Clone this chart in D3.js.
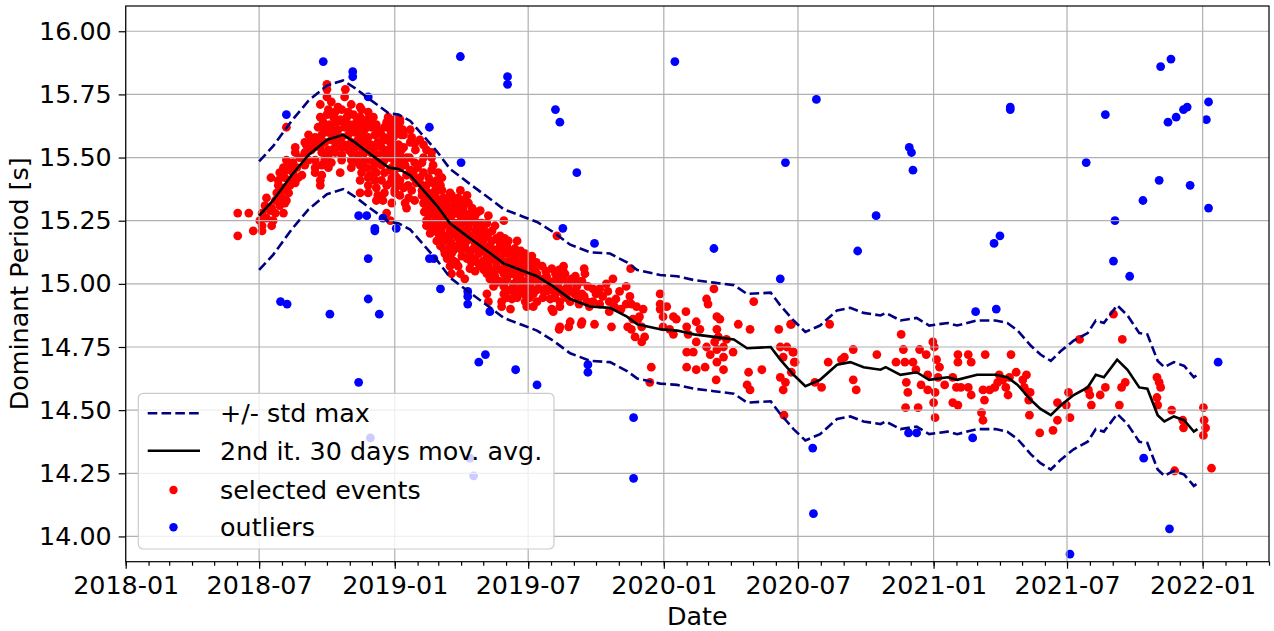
<!DOCTYPE html>
<html>
<head>
<meta charset="utf-8">
<script src="https://cdn.jsdelivr.net/npm/d3@7"></script>
<style>
  body { margin: 0; background: #fff; }
  text { font-family: "DejaVu Sans", sans-serif; fill: #000; }
</style>
</head>
<body>
<svg id="chart" width="1274" height="631"></svg>
<script>
// dates are stored as days since 2018-01-01, values in seconds

// red dots (selected events)
var selected = [
  [152,15.28],[167,15.28],[152,15.19],[173,15.21],[185,15.21],[185,15.23],[198,15.23],
  [182,15.25],[191,15.26],[200,15.25],[185,15.28],[196,15.29],[203,15.28],[214,15.28],
  [189,15.31],[198,15.30],[209,15.31],[216,15.32],[191,15.34],[203,15.33],[212,15.34],[218,15.33],
  [205,15.36],[212,15.37],[221,15.36],[207,15.39],[214,15.38],[223,15.39],[230,15.40],
  [197,15.42],[207,15.41],[216,15.42],[225,15.41],[234,15.42],[209,15.44],[218,15.45],[227,15.44],[239,15.43],
  [214,15.46],[223,15.47],[232,15.46],[243,15.47],[218,15.49],[227,15.48],[236,15.50],[248,15.49],
  [230,15.52],[243,15.52],[252,15.53],[230,15.54],[245,15.55],[255,15.54],[218,15.62],
  [273,15.79],[273,15.77],[298,15.77],[273,15.74],[297,15.74],
  [264,15.71],[279,15.72],[288,15.70],[306,15.71],[318,15.70],
  [275,15.69],[284,15.68],[293,15.69],[302,15.68],[320,15.69],[329,15.68],
  [264,15.66],[273,15.67],[282,15.66],[291,15.65],[300,15.66],[309,15.67],[318,15.66],[327,15.65],[336,15.66],[356,15.66],[365,15.65],
  [268,15.64],[277,15.63],[286,15.64],[295,15.64],[304,15.63],[313,15.64],[322,15.63],[331,15.64],[340,15.63],[354,15.64],[363,15.63],[372,15.64],
  [261,15.62],[270,15.61],[279,15.62],[288,15.61],[297,15.62],[306,15.61],[315,15.62],[324,15.61],[333,15.62],[342,15.61],[351,15.62],[361,15.61],[370,15.62],[376,15.61],
  [248,15.59],[257,15.58],[266,15.59],[275,15.60],[284,15.59],[293,15.58],[302,15.59],[311,15.60],[320,15.59],[329,15.58],[338,15.59],[347,15.59],[356,15.58],[365,15.59],[374,15.59],
  [243,15.56],[252,15.57],[261,15.56],[270,15.56],[279,15.57],[288,15.56],[297,15.55],[306,15.56],[315,15.57],[324,15.56],[333,15.55],[342,15.56],[351,15.57],[361,15.56],[370,15.55],
  [264,15.54],[275,15.53],[284,15.54],[293,15.54],[302,15.53],[311,15.54],[320,15.54],[329,15.53],[338,15.54],[347,15.54],[356,15.53],[365,15.54],[374,15.53],
  [266,15.52],[275,15.51],[284,15.52],[293,15.51],[306,15.52],[315,15.51],[324,15.52],[333,15.52],[342,15.51],[351,15.52],[361,15.51],[370,15.52],
  [257,15.49],[270,15.49],[279,15.48],[293,15.49],[306,15.49],[315,15.48],[324,15.49],[333,15.49],[342,15.48],[351,15.49],[365,15.49],[374,15.48],
  [257,15.46],[266,15.47],[275,15.46],[306,15.46],[318,15.47],[327,15.46],[336,15.46],[347,15.47],[361,15.46],[370,15.46],
  [257,15.44],[266,15.43],[291,15.44],[320,15.44],[331,15.43],[340,15.44],[351,15.44],[365,15.43],
  [264,15.41],[318,15.41],[329,15.42],[338,15.41],[347,15.41],[361,15.42],[372,15.41],
  [264,15.39],[329,15.39],[340,15.38],[354,15.39],[367,15.39],
  [318,15.36],[329,15.36],[342,15.35],[351,15.36],[365,15.36],
  [340,15.33],[349,15.33],[361,15.32],[354,15.28],
  [363,15.64],[372,15.65],[359,15.61],[368,15.60],[386,15.61],
  [363,15.58],[377,15.59],[388,15.58],[399,15.57],[359,15.56],[370,15.55],[386,15.56],[404,15.55],
  [363,15.53],[377,15.54],[393,15.53],[408,15.53],[415,15.52],[359,15.50],[372,15.51],[404,15.50],[415,15.50],
  [365,15.48],[379,15.47],[402,15.48],[417,15.47],
  [359,15.45],[372,15.46],[386,15.45],[404,15.44],[415,15.45],[424,15.44],
  [368,15.42],[381,15.43],[399,15.42],[411,15.42],[422,15.41],[429,15.42],
  [359,15.40],[372,15.39],[399,15.40],[408,15.39],[417,15.40],[427,15.39],
  [365,15.37],[377,15.38],[402,15.37],[411,15.36],[420,15.37],[429,15.37],[440,15.36],[454,15.37],
  [372,15.35],[384,15.34],[402,15.35],[411,15.34],[420,15.35],[431,15.34],[442,15.35],[451,15.34],[463,15.35],
  [379,15.32],[404,15.32],[413,15.31],[422,15.32],[433,15.32],[445,15.31],[454,15.32],[465,15.32],
  [381,15.30],[408,15.30],[417,15.29],[427,15.30],[438,15.30],[449,15.29],[458,15.30],[470,15.30],[481,15.29],
  [411,15.27],[420,15.27],[431,15.26],[442,15.27],[454,15.27],[463,15.26],[474,15.27],[492,15.27],
  [359,15.25],[408,15.25],[417,15.24],[429,15.25],[440,15.25],[451,15.24],[460,15.25],[472,15.25],[483,15.24],[513,15.25],
  [408,15.23],[420,15.22],[431,15.23],[442,15.22],[454,15.23],[465,15.22],[476,15.23],[485,15.22],[501,15.23],
  [413,15.20],[424,15.20],[436,15.19],[447,15.20],[458,15.20],[470,15.19],[481,15.20],[492,15.20],[508,15.19],[585,15.19],
  [422,15.17],[433,15.17],[442,15.16],[454,15.17],[463,15.17],[474,15.16],[485,15.17],[497,15.17],[508,15.16],[519,15.17],[531,15.17],
  [427,15.15],[438,15.14],[449,15.15],[460,15.15],[472,15.14],[483,15.15],[494,15.15],[506,15.14],[517,15.15],[528,15.14],
  [433,15.12],[442,15.12],[456,15.11],[467,15.12],[479,15.12],[490,15.11],[501,15.12],[513,15.12],[522,15.11],[533,15.12],[542,15.12],[551,15.11],
  [436,15.10],[445,15.09],[463,15.10],[474,15.10],[485,15.09],[497,15.10],[508,15.10],[519,15.09],[528,15.10],[540,15.10],[551,15.09],
  [440,15.07],[451,15.07],[467,15.06],[481,15.07],[492,15.07],[503,15.06],[515,15.07],[526,15.07],[537,15.06],[549,15.07],[565,15.07],[578,15.06],[594,15.07],
  [442,15.04],[454,15.04],[490,15.04],[501,15.03],[513,15.04],[524,15.04],[535,15.03],[546,15.04],[558,15.04],[571,15.03],[583,15.04],[596,15.04],[610,15.03],[623,15.04],
  [460,15.02],[494,15.02],[508,15.01],[517,15.02],[531,15.02],[542,15.01],[553,15.02],[567,15.02],[580,15.01],[594,15.02],[605,15.02],[619,15.01],
  [499,14.99],[513,14.99],[524,14.98],[537,14.99],[549,14.99],[560,14.98],[571,14.99],[585,14.99],[598,14.98],[612,14.99],
  [490,14.96],[513,14.96],[526,14.97],[540,14.96],[553,14.96],[571,14.97],[583,14.96],[594,14.96],[605,14.97],[619,14.96],
  [492,14.93],[510,14.93],[524,14.94],[542,14.93],[558,14.93],[576,14.94],[589,14.93],[603,14.93],[614,14.94],[626,14.93],
  [510,14.91],[522,14.90],[544,14.91],[553,14.91],[578,14.90],[589,14.91],[580,14.89],[603,14.85],[619,14.85],[589,14.83],
  [392,15.33],[406,15.33],[416,15.33],[426,15.33],[436,15.33],[447,15.33],[458,15.33],
  [405,15.285],[415,15.285],[425,15.28],[436,15.285],[447,15.28],[458,15.285],[468,15.28],[478,15.285],
  [412,15.24],[423,15.24],[435,15.24],[446,15.24],[456,15.24],[466,15.24],[478,15.24],[490,15.24],
  [416,15.21],[428,15.21],[440,15.21],[451,15.21],[462,15.21],[475,15.21],[487,15.21],[497,15.21],
  [428,15.18],[439,15.18],[450,15.185],[460,15.18],[479,15.18],[490,15.185],[503,15.18],[514,15.18],
  [432,15.135],[444,15.13],[455,15.135],[465,15.13],[477,15.135],[488,15.13],[499,15.135],[511,15.13],[523,15.13],[536,15.13],
  [448,15.085],[469,15.085],[479,15.08],[491,15.085],[503,15.08],[514,15.085],[525,15.08],[535,15.085],[546,15.08],[557,15.085],
  [474,15.05],[486,15.055],[498,15.05],[509,15.055],[520,15.05],[531,15.055],[543,15.05],[555,15.055],[570,15.05],[588,15.055],
  [503,15.005],[514,15.005],[526,15.0],[537,15.005],[548,15.0],[560,15.005],[574,15.0],[587,15.005],[600,15.0],
  [520,14.975],[532,14.975],[545,14.975],[557,14.975],[566,14.975],[578,14.975],[590,14.975],[610,14.975],
  [517,14.945],[531,14.945],[548,14.945],[566,14.945],[582,14.945],[598,14.945],
  [385,15.50],[392,15.48],[390,15.44],[394,15.40],[388,15.37],[381,15.50],[391,15.42],[383,15.39],[396,15.46],[392,15.555],
  [593,15.06],[593,15.04],[588,15.02],[622,15.06],[609,15.02],[618,15.01],[588,14.98],[597,14.98],[609,14.96],[622,14.95],
  [634,14.98],[638,14.96],[652,15.00],[661,15.02],[654,14.97],[647,14.95],[634,14.93],[643,14.92],[656,14.93],[670,14.97],
  [679,14.99],[684,14.95],[679,14.92],[672,14.90],[663,14.91],[656,14.89],[693,14.91],[702,14.90],[697,14.87],[688,14.86],
  [681,14.83],[659,14.83],[636,14.84],[618,14.84],[601,14.83],[588,14.82],[686,14.82],[700,14.83],[704,14.79],[691,14.79],
  [700,14.77],[601,15.00],[627,14.99],[643,14.98],[629,14.91],[615,14.92],[665,14.94],[686,14.92],[695,14.86],
  [725,14.96],[725,14.92],[725,14.90],[729,14.87],[734,14.91],[743,14.87],[747,14.86],[743,14.80],[729,14.83],[738,14.82],
  [760,14.89],[761,14.83],[763,14.80],[774,14.85],[779,14.82],[788,14.94],[790,14.92],[798,14.98],[802,14.87],[806,14.86],
  [802,14.82],[804,14.79],[799,14.77],[802,14.74],[811,14.75],[815,14.78],[831,14.84],[847,14.82],[852,14.93],[774,14.77],
  [761,14.73],[770,14.73],[788,14.75],[793,14.72],[802,14.69],[811,14.71],[811,14.66],[824,14.73],[761,14.67],[774,14.66],
  [786,14.67],[801,14.62],[845,14.65],[843,14.60],[847,14.58],[863,14.66],[886,14.82],[888,14.75],[892,14.71],[897,14.75],
  [906,14.73],[908,14.69],[888,14.63],[895,14.61],[892,14.58],[902,14.84],[713,14.67],[711,14.61],[685,15.06],[893,14.48],
  [903,14.84],[955,14.84],[905,14.73],[907,14.69],[903,14.65],[935,14.61],[944,14.59],[953,14.69],[971,14.70],[975,14.71],
  [987,14.74],[987,14.62],[991,14.58],[1019,14.72],[1052,14.80],[1055,14.74],[1045,14.69],[1057,14.69],[1068,14.69],[1072,14.66],
  [1077,14.74],[1086,14.72],[1088,14.64],[1095,14.77],[1097,14.75],[1100,14.70],[1104,14.67],[1102,14.63],[1079,14.60],[1088,14.58],
  [1059,14.61],[1061,14.57],[1058,14.51],[1075,14.51],[1096,14.53],[1098,14.57],[1098,14.47],[1111,14.60],[1122,14.63],[1129,14.72],
  [1143,14.72],[1129,14.69],[1147,14.69],[1122,14.53],[1129,14.52],[1127,14.59],[1133,14.59],[1143,14.59],[1147,14.56],[1166,14.72],
  [1163,14.58],[1165,14.54],[1161,14.49],[1163,14.46],[1172,14.58],[1179,14.59],[1183,14.61],[1185,14.64],[1190,14.62],[1194,14.59],
  [1197,14.56],[1199,14.63],[1201,14.72],[1208,14.65],[1217,14.62],[1222,14.64],[1219,14.59],[1224,14.57],[1226,14.48],[1240,14.41],
  [1227,14.57],[1225,14.54],[1258,14.42],[1264,14.46],[1264,14.53],[1276,14.52],[1279,14.57],[1281,14.47],[1294,14.78],[1306,14.58],
  [1308,14.56],[1310,14.52],[1322,14.56],[1329,14.59],[1340,14.88],[1348,14.52],[1352,14.78],[1351,14.59],[1356,14.61],[1399,14.63],
  [1402,14.61],[1404,14.59],[1399,14.55],[1400,14.52],[1419,14.50],[1434,14.46],[1435,14.43],[1423,14.26],[1462,14.51],[1463,14.46],
  [1465,14.43],[1462,14.40],[1473,14.27]
];

// blue dots (outliers)
var outliers = [
  [268,15.88],[308,15.84],[308,15.82],[218,15.67],[329,15.74],[316,15.27],[327,15.27],[338,15.22],[338,15.21],[349,15.26],
  [367,15.22],[329,15.10],[210,14.93],[219,14.92],[329,14.94],[277,14.88],[344,14.88],[316,14.61],[332,14.39],
  [454,15.90],[518,15.82],[518,15.79],[412,15.62],[455,15.48],[583,15.69],[589,15.64],[612,15.44],[745,15.88],[937,15.73],
  [895,15.48],[593,15.22],[636,15.16],[798,15.14],[888,15.02],[427,14.98],[412,15.10],[418,15.10],[464,14.97],[464,14.95],
  [464,14.92],[494,14.89],[479,14.69],[488,14.72],[529,14.66],[558,14.60],[627,14.68],[627,14.65],[689,14.47],[689,14.23],
  [932,14.35],[933,14.09],[467,14.31],[472,14.24],
  [1404,15.86],[1418,15.89],[1200,15.70],[1200,15.69],[1329,15.67],[1414,15.64],[1425,15.66],[1435,15.69],[1440,15.70],
  [1469,15.72],[1466,15.65],[1063,15.54],[1066,15.52],[1068,15.45],[1303,15.48],[1402,15.41],[1444,15.39],[1380,15.33],
  [1469,15.30],[1018,15.27],[1342,15.25],[993,15.13],[1186,15.19],[1178,15.16],[1340,15.09],[1362,15.03],[1153,14.89],
  [1181,14.90],[1482,14.69],[1062,14.41],[1073,14.41],[1149,14.39],[1381,14.31],[1416,14.03],[1281,13.93]
];

// black line: 2nd iteration 30 days moving average
var movAvg = [
  [181,15.27],[200,15.33],[225,15.43],[248,15.51],[273,15.57],[295,15.59],[311,15.56],[329,15.52],[343,15.49],
  [357,15.46],[370,15.455],[386,15.43],[404,15.37],[422,15.31],[440,15.24],[467,15.18],[495,15.12],[513,15.08],
  [540,15.05],[558,15.03],[580,14.99],[603,14.94],[630,14.91],[657,14.905],[680,14.87],[694,14.84],[725,14.82],
  [748,14.815],[771,14.80],[798,14.79],[825,14.78],[843,14.745],[875,14.75],[888,14.70],[906,14.64],[922,14.595],
  [942,14.62],[965,14.68],[983,14.69],[1001,14.67],[1024,14.66],[1031,14.67],[1051,14.64],[1073,14.65],[1090,14.62],
  [1115,14.63],[1128,14.62],[1155,14.64],[1180,14.64],[1196,14.63],[1210,14.60],[1228,14.54],[1241,14.505],[1255,14.48],
  [1269,14.52],[1286,14.56],[1305,14.59],[1316,14.64],[1327,14.63],[1345,14.70],[1359,14.66],[1375,14.59],[1386,14.585],
  [1400,14.48],[1409,14.455],[1422,14.475],[1436,14.46],[1449,14.415],[1454,14.425]
];

var stdMax = 0.215;

var yTickVals = [14.00, 14.25, 14.50, 14.75, 15.00, 15.25, 15.50, 15.75, 16.00];

var legendLabels = ["+/- std max", "2nd it. 30 days mov. avg.", "selected events", "outliers"];

var t0 = Date.UTC(2018, 0, 1);
function day(d) { return new Date(t0 + d * 864e5); }

var pL = 125.7, pR = 1269, pT = 6, pB = 561.7;
var fs = "25.4px";

var x = d3.scaleUtc().domain([day(0), day(1551)]).range([pL, pR]);
var y = d3.scaleLinear().domain([13.9, 16.1]).range([pB, pT]);

var svg = d3.select("#chart");

svg.append("clipPath").attr("id", "clip")
  .append("rect").attr("x", pL).attr("y", pT).attr("width", pR - pL).attr("height", pB - pT);

var plot = svg.append("g").attr("clip-path", "url(#clip)");

// scatter first, grid goes over it like in matplotlib
plot.append("g").selectAll("circle").data(selected).enter().append("circle")
  .attr("cx", function(d) { return x(day(d[0])); })
  .attr("cy", function(d) { return y(d[1]); })
  .attr("r", 4.4).style("fill", "#ff0000");

plot.append("g").selectAll("circle").data(outliers).enter().append("circle")
  .attr("cx", function(d) { return x(day(d[0])); })
  .attr("cy", function(d) { return y(d[1]); })
  .attr("r", 4.4).style("fill", "#0000ff");

var xMajor = x.ticks(d3.utcMonth.every(6));

plot.append("g").selectAll("line").data(xMajor).enter().append("line")
  .attr("x1", function(d) { return x(d); }).attr("x2", function(d) { return x(d); })
  .attr("y1", pT).attr("y2", pB)
  .style("stroke", "#b0b0b0").style("stroke-width", 1.2);

plot.append("g").selectAll("line").data(yTickVals).enter().append("line")
  .attr("y1", function(d) { return y(d); }).attr("y2", function(d) { return y(d); })
  .attr("x1", pL).attr("x2", pR)
  .style("stroke", "#b0b0b0").style("stroke-width", 1.2);

var line = d3.line()
  .x(function(d) { return x(day(d[0])); })
  .y(function(d) { return y(d[1]); });

var upper = movAvg.map(function(d) { return [d[0], d[1] + stdMax]; });
var lower = movAvg.map(function(d) { return [d[0], d[1] - stdMax]; });

[upper, lower].forEach(function(band) {
  plot.append("path").datum(band).attr("d", line)
    .style("fill", "none").style("stroke", "#000080")
    .style("stroke-width", 2.6).style("stroke-dasharray", "9.6,4.2");
});

plot.append("path").datum(movAvg).attr("d", line)
  .style("fill", "none").style("stroke", "#000").style("stroke-width", 2.6);

// axes
var xAxis = svg.append("g").attr("transform", "translate(0," + pB + ")")
  .call(d3.axisBottom(x).tickValues(xMajor).tickFormat(d3.utcFormat("%Y-%m")).tickSize(7).tickPadding(7.3));
var xMinor = svg.append("g").attr("transform", "translate(0," + pB + ")")
  .call(d3.axisBottom(x).ticks(d3.utcMonth.every(1)).tickFormat("").tickSize(4));
var yAxis = svg.append("g").attr("transform", "translate(" + pL + ",0)")
  .call(d3.axisLeft(y).tickValues(yTickVals).tickFormat(d3.format(".2f")).tickSize(7).tickPadding(7));

[xAxis, xMinor, yAxis].forEach(function(g) {
  g.select(".domain").remove();
  g.selectAll(".tick line").style("stroke", "#000").style("stroke-width", 1.2);
  g.selectAll("text").style("font-size", fs).style("font-family", "DejaVu Sans");
});

svg.append("rect").attr("x", pL).attr("y", pT).attr("width", pR - pL).attr("height", pB - pT)
  .style("fill", "none").style("stroke", "#000").style("stroke-width", 1.2);

svg.append("text").attr("x", (pL + pR) / 2).attr("y", 625)
  .attr("text-anchor", "middle").style("font-size", fs).text("Date");

svg.append("text").attr("transform", "translate(27.5," + ((pT + pB) / 2) + ") rotate(-90)")
  .attr("text-anchor", "middle").style("font-size", fs).text("Dominant Period [s]");

// legend
var leg = svg.append("g");
leg.append("rect").attr("x", 138.3).attr("y", 393.3).attr("width", 415.7).attr("height", 155.7).attr("rx", 5)
  .style("fill", "#fff").style("fill-opacity", 0.8)
  .style("stroke", "#cccccc").style("stroke-width", 1.2);

var rowY = [413.3, 450.7, 490, 527.3];
leg.append("line").attr("x1", 147.7).attr("x2", 200).attr("y1", rowY[0]).attr("y2", rowY[0])
  .style("stroke", "#000080").style("stroke-width", 2.6).style("stroke-dasharray", "9.6,4.2");
leg.append("line").attr("x1", 147.7).attr("x2", 200).attr("y1", rowY[1]).attr("y2", rowY[1])
  .style("stroke", "#000").style("stroke-width", 2.6);
leg.append("circle").attr("cx", 173.5).attr("cy", rowY[2]).attr("r", 4.2).style("fill", "#ff0000");
leg.append("circle").attr("cx", 173.5).attr("cy", rowY[3]).attr("r", 4.2).style("fill", "#0000ff");

leg.selectAll("text.lab").data(legendLabels).enter().append("text").attr("class", "lab")
  .attr("x", 220).attr("y", function(d, i) { return rowY[i] + 9; })
  .style("font-size", fs).text(function(d) { return d; });
</script>
</body>
</html>
